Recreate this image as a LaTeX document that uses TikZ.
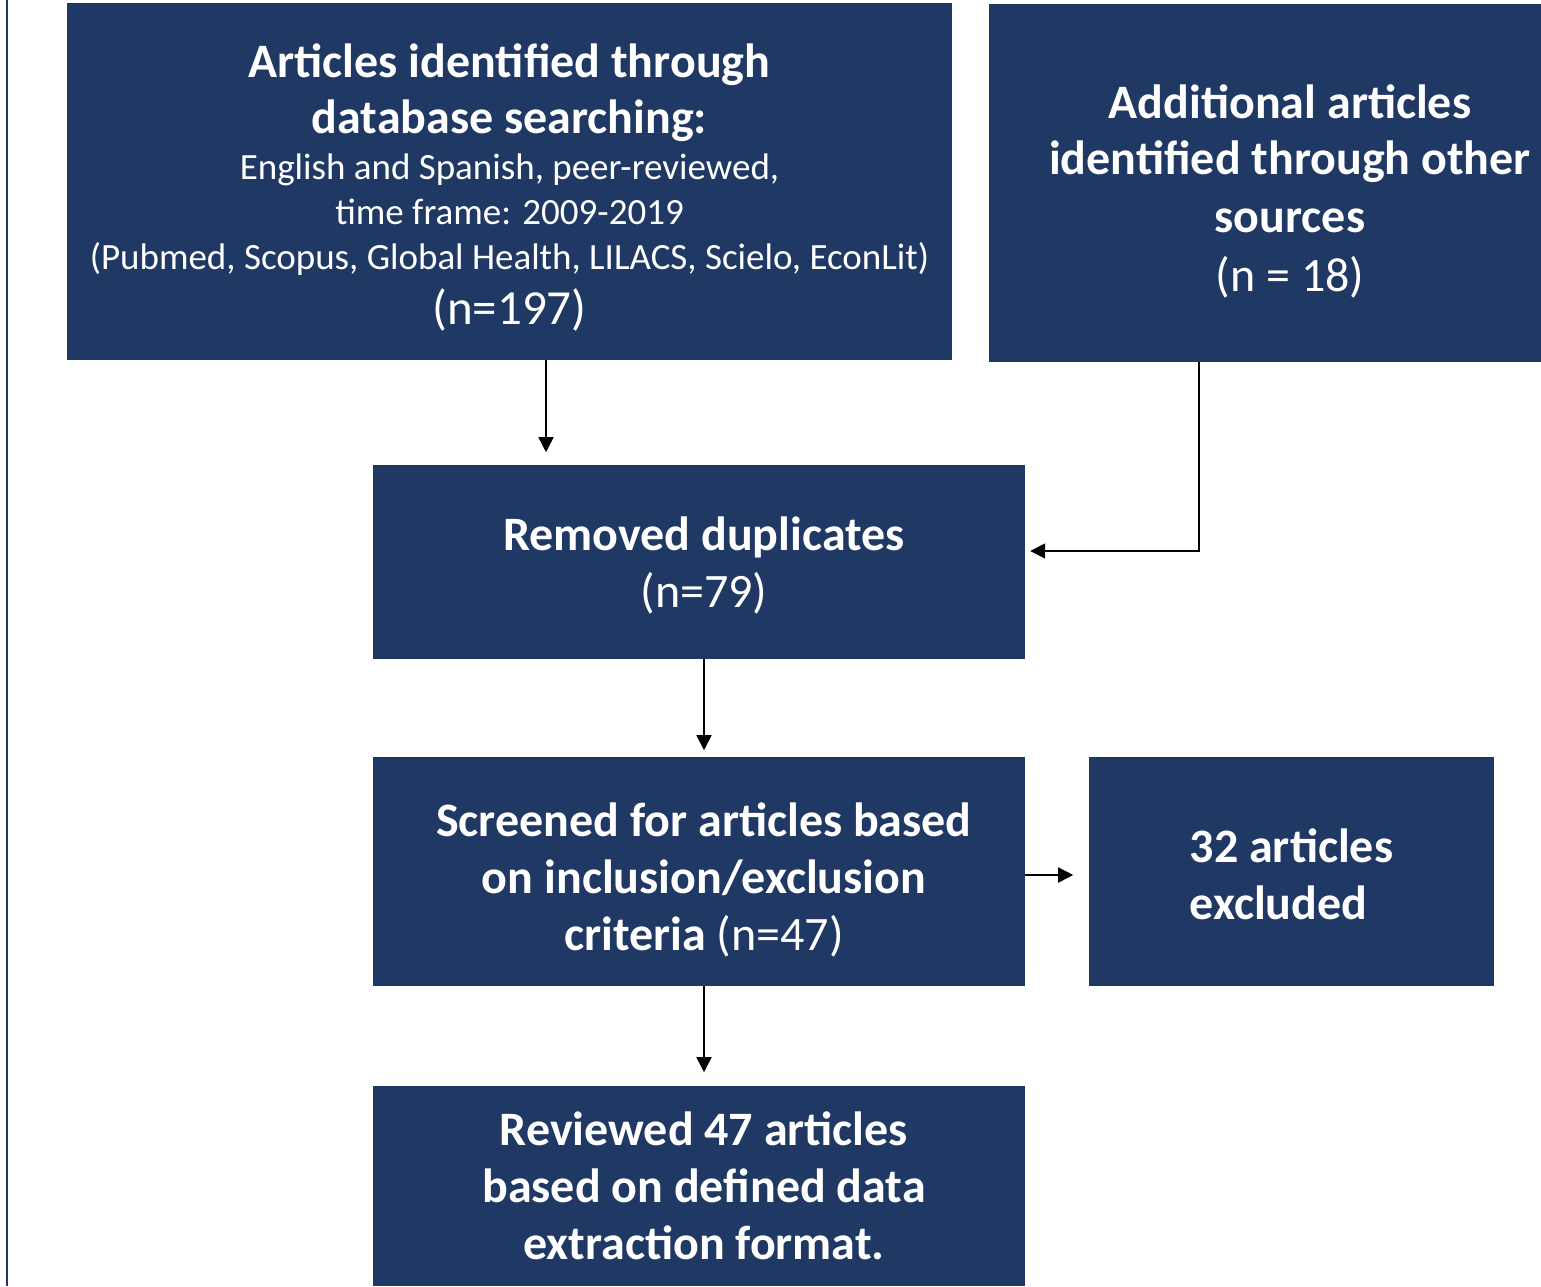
\documentclass[tikz,border=0pt]{standalone}
\usepackage{fontspec}
\setmainfont{Carlito}
\usetikzlibrary{arrows.meta}
\definecolor{navy}{HTML}{203864}
\tikzset{
  box/.style={fill=navy, inner sep=0pt},
  txt/.style={text=white, inner sep=0pt, align=center,
    font=\fontsize{48}{57}\selectfont},
  arr/.style={draw=black, line width=1.6pt, -{Triangle[length=15pt,width=15pt]}},
}
\begin{document}
\begin{tikzpicture}[x=1pt,y=-1pt]
\useasboundingbox (0,0) rectangle (1541,1286);
\draw[navy, line width=2pt] (7,0) -- (7,1286);

\node[box, minimum width=885pt, minimum height=357pt] (b1) at (509.5,181.5) {};
\node[txt] (t1) at ([yshift=-6.5pt]b1.center)
 {\bfseries Articles identified through\\[-1pt]
  \bfseries database searching:\\[-11pt]
  {\fontsize{37}{40}\selectfont English and Spanish, peer-reviewed,}\\[-12pt]
  {\fontsize{37}{40}\selectfont time frame: 2009-2019}\\[-12pt]
  {\fontsize{37}{40}\selectfont (Pubmed, Scopus, Global Health, LILACS, Scielo, EconLit)}\\[-2pt]
  {\fontsize{49}{50}\selectfont (n=197)}};

\node[box, minimum width=602pt, minimum height=358pt] (b2) at (1290,183) {};
\node[txt] (t2) at ([yshift=-8.5pt]b2.center)
 {\bfseries Additional articles\\[-1pt]
  \bfseries identified through other\\[1pt]
  \bfseries sources\\[2pt]
  (n = 18)};

\node[box, minimum width=652pt, minimum height=194pt] (b3) at (699,562) {};
\node[txt] (t3) at ([xshift=5pt,yshift=-3pt]b3.center)
 {\bfseries Removed duplicates\\ (n=79)};

\node[box, minimum width=652pt, minimum height=229pt] (b4) at (699,871.5) {};
\node[txt] (t4) at ([xshift=5pt,yshift=-8pt]b4.center)
 {\bfseries Screened for articles based\\
  \bfseries on inclusion/exclusion\\
  {\bfseries criteria} (n=47)};

\node[box, minimum width=405pt, minimum height=229pt] (b5) at (1291.5,871.5) {};
\node[txt, align=left] (t5) at ([yshift=-3pt]b5.center)
 {\bfseries 32 articles\\ \bfseries excluded};

\node[box, minimum width=652pt, minimum height=200pt] (b6) at (699,1186) {};
\node[txt] (t6) at ([xshift=5pt]b6.center)
 {\bfseries Reviewed 47 articles\\
  \bfseries based on defined data\\
  \bfseries extraction format.};

\draw[arr] ([xshift=36.5pt]b1.south) -- ++(0,92);
\draw[arr] ([xshift=-91pt]b2.south) |- ([xshift=5pt,yshift=11pt]b3.east);
\draw[arr] ([xshift=5pt]b3.south) -- ++(0,91);
\draw[arr] ([yshift=-3.5pt]b4.east) -- ++(48,0);
\draw[arr] ([xshift=5pt]b4.south) -- ++(0,86);
\end{tikzpicture}
\end{document}
